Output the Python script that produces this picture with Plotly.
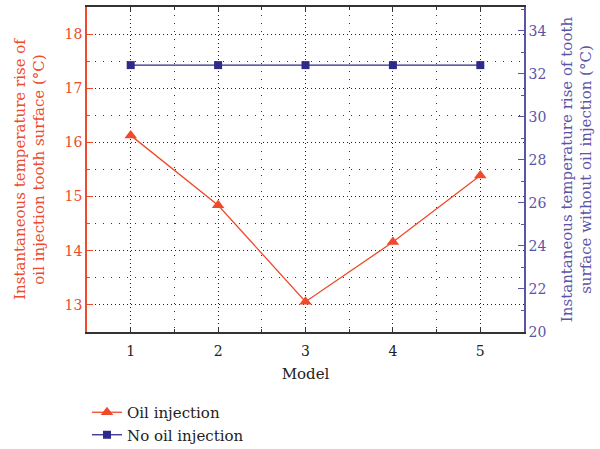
import plotly.graph_objects as go

# Model index and measured instantaneous temperature rise
models = [1, 2, 3, 4, 5]
oil_injection = [16.13, 14.84, 13.06, 14.16, 15.39]
no_oil_injection = [32.4, 32.4, 32.4, 32.4, 32.4]

RED = "#EE4A2B"
BLUE = "#2E2A8A"
BLUE_AXIS = "#5B55A8"
FONT = "DejaVu Serif"

fig = go.Figure()

fig.add_trace(go.Scatter(
    x=models, y=oil_injection, name="Oil injection",
    mode="lines+markers", legendgroup="a",
    line=dict(color=RED, width=1.3),
    marker=dict(symbol="triangle-up", size=11, color=RED),
    yaxis="y",
))
fig.add_trace(go.Scatter(
    x=models, y=no_oil_injection, name="No oil injection",
    mode="lines+markers", legendgroup="b",
    line=dict(color=BLUE, width=1.3),
    marker=dict(symbol="square", size=8, color=BLUE),
    yaxis="y2",
))

grid_major = dict(showgrid=True, gridcolor="#222222", gridwidth=1, griddash="1px,3px")

fig.update_layout(
    width=600, height=449,
    margin=dict(l=87, r=76, t=7, b=117),
    paper_bgcolor="white", plot_bgcolor="white",
    font=dict(family=FONT, size=14, color="#222222"),
    showlegend=True,
    legend=dict(
        x=0.0, xref="paper", xanchor="left",
        y=1 - 396 / 449, yref="container", yanchor="top",
        font=dict(family=FONT, size=15, color="#222222"),
        bgcolor="rgba(0,0,0,0)", tracegroupgap=0, traceorder="grouped",
        itemwidth=30,
    ),
    xaxis=dict(
        range=[0.5, 5.5], tickvals=models, ticktext=[str(m) for m in models],
        title=dict(text="Model", font=dict(family=FONT, size=15, color="#222222"), standoff=11),
        showline=True, linecolor="#333333", linewidth=1.5, mirror="ticks",
        ticks="inside", ticklen=5, tickcolor="#333333", ticklabelstandoff=5,
        tickfont=dict(family=FONT, size=14, color="#222222"),
        zeroline=False, automargin=False,
        minor=dict(dtick=0.5, tick0=0.5, ticks="inside", ticklen=3, tickcolor="#333333",
                   showgrid=True, gridcolor="#333333", griddash="1px,7px", gridwidth=1),
        **grid_major,
    ),
    yaxis=dict(
        range=[12.5, 18.5], dtick=1, tick0=13,
        title=dict(text="Instantaneous temperature rise of<br>oil injection tooth surface (°C)",
                   font=dict(family=FONT, size=15, color=RED), standoff=16),
        showline=True, linecolor=RED, linewidth=1.5,
        ticks="inside", ticklen=6, tickcolor=RED,
        tickfont=dict(family=FONT, size=14, color=RED),
        zeroline=False, automargin=False,
        minor=dict(dtick=0.5, tick0=12.5, ticks="inside", ticklen=3, tickcolor=RED,
                   showgrid=True, gridcolor="#333333", griddash="1px,7px", gridwidth=1),
        **grid_major,
    ),
    yaxis2=dict(
        range=[20, 35.1], dtick=2, tick0=20, overlaying="y", side="right",
        title=dict(text="Instantaneous temperature rise of tooth<br>surface without oil injection (°C)",
                   font=dict(family=FONT, size=15, color=BLUE_AXIS), standoff=16),
        showline=True, linecolor=BLUE_AXIS, linewidth=1.5,
        ticks="inside", ticklen=6, tickcolor=BLUE_AXIS,
        tickfont=dict(family=FONT, size=14, color=BLUE_AXIS),
        showgrid=False, zeroline=False, automargin=False,
        minor=dict(dtick=1, tick0=21, ticks="inside", ticklen=3, tickcolor=BLUE_AXIS),
    ),
)

fig.write_html("out.html")
